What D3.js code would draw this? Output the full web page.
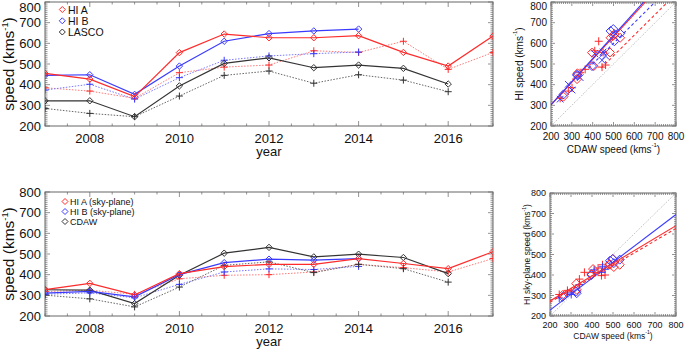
<!DOCTYPE html>
<html><head><meta charset="utf-8">
<script src="https://cdn.jsdelivr.net/npm/d3@7"></script>
<style>body{margin:0;background:#fff}svg{display:block}text{font-family:"Liberation Sans",Arial,sans-serif;fill:#111}</style>
</head><body><svg id="c" width="685" height="350"></svg>
<script>
// ---------- data ----------
const years = [2007,2008,2009,2010,2011,2012,2013,2014,2015,2016,2017];
const yearTicks = [2008,2010,2012,2014,2016];
const speedTicks = [200,300,400,500,600,700,800];

// top panel (mean = solid with diamonds, median = dotted with crosses)
const hiA      = [455,427,342,555,645,627,627,637,556,490,635];
const hiB      = [445,448,353,490,610,647,660,669,null,null,null];
const lasco    = [322,322,245,394,503,530,482,495,479,403,null];
const hiAMed   = [385,369,334,458,485,495,564,556,610,474,556];
const hiBMed   = [374,402,330,434,518,539,550,558,null,null,null];
const lascoMed = [285,261,245,345,445,466,407,448,422,366,null];

// bottom panel (sky-plane)
const hiASky    = [328,358,302,405,439,450,450,478,454,429,511];
const hiBSky    = [311,319,293,400,458,475,470,478,null,null,null];
const cdaw      = [327,325,260,397,504,532,486,499,483,405,null];
const hiASkyMed = [318,325,305,380,397,400,413,450,434,413,478];
const hiBSkyMed = [305,312,288,353,413,428,425,440,null,null,null];
const cdawMed   = [301,283,244,340,445,462,410,450,429,364,null];

// fit lines: [HI A solid, HI B solid, HI B dashed, HI A dashed]
const fitTopSlope = [1.10, 1.12, 1.00, 1.00];
const fitTopIntercept = [82, 78, 100, 40];
const fitTopStart = [200, 200, 380, 440];
// bottom: [HI B solid, HI A solid, HI A dashed]
const fitBotSlope = [0.778, 0.612, 0.600];
const fitBotIntercept = [73, 151, 147];
const fitBotStart = [200, 200, 200];

const legendTop = ["HI A","HI B","LASCO"];
const legendBot = ["HI A (sky-plane)","HI B (sky-plane)","CDAW"];

// ---------- drawing ----------
const svg = d3.select("#c");
const RED="#ff2a2a", BLUE="#3a3aff", BLACK="#333333";
const REDL="#ff7a7a", BLUEL="#7a7aff", GREYL="#666666";
let clipId=0;

function frame(g, x, y, xMaj, xMinStep, yMinStep, majLen, minLen){
  const [x0,x1]=x.range(), [y1,y0]=y.range();
  const t = g.append("g").attr("stroke","#777").attr("stroke-width",0.8);
  for(let v=y.domain()[0]; v<=y.domain()[1]+1e-6; v+=yMinStep){
    const maj = Math.abs(v/100-Math.round(v/100))<1e-6;
    const L = maj?majLen:minLen, yy=y(v);
    t.append("line").attr("x1",x0).attr("x2",x0+L).attr("y1",yy).attr("y2",yy);
    t.append("line").attr("x1",x1).attr("x2",x1-L).attr("y1",yy).attr("y2",yy);
  }
  const [d0,d1]=x.domain();
  for(let v=d0; v<=d1+1e-6; v+=xMinStep){
    const maj = xMaj.some(m=>Math.abs(m-v)<1e-6);
    const L = maj?majLen:minLen, xx=x(v);
    t.append("line").attr("x1",xx).attr("x2",xx).attr("y1",y1).attr("y2",y1-L);
    t.append("line").attr("x1",xx).attr("x2",xx).attr("y1",y0).attr("y2",y0+L);
  }
  g.append("rect").attr("x",x0).attr("y",y0).attr("width",x1-x0).attr("height",y1-y0)
   .attr("fill","none").attr("stroke","#666").attr("stroke-width",1);
}
function clip(g, x, y){
  const id="clip"+(clipId++);
  const [x0,x1]=x.range(), [y1,y0]=y.range();
  svg.append("clipPath").attr("id",id).append("rect").attr("x",x0).attr("y",y0).attr("width",x1-x0).attr("height",y1-y0);
  return g.append("g").attr("clip-path",`url(#${id})`);
}
function diamond(px,py,s){return `M${px},${py-s}L${px+s},${py}L${px},${py+s}L${px-s},${py}Z`;}
function plus(px,py,s){return `M${px-s},${py}L${px+s},${py}M${px},${py-s}L${px},${py+s}`;}
function cross(px,py,s){return `M${px-s},${py-s}L${px+s},${py+s}M${px-s},${py+s}L${px+s},${py-s}`;}

function speedLabel(sel, fs){
  sel.text("");
  sel.append("tspan").text(sel.attr("data-pre"));
  sel.append("tspan").attr("font-size",fs*0.6).attr("dy",-fs*0.38).text("-1");
  sel.append("tspan").attr("dy",fs*0.38).text(")");
}

function linePanel(top, bottom, series, legend, legendPos, legendFs){
  const x = d3.scaleLinear().domain([2007,2017]).range([45,493]);
  const y = d3.scaleLinear().domain([200,800]).range([bottom,top]);
  const g = svg.append("g");
  frame(g, x, y, yearTicks, 0.5, 10, 5, 2.5);
  const cg = clip(g, x, y);
  series.forEach(s=>{
    const pts = years.map((yr,i)=>[yr,s.data[i]]).filter(d=>d[1]!=null);
    cg.append("path").datum(pts)
      .attr("d", d3.line().x(d=>x(d[0])).y(d=>y(d[1])))
      .attr("fill","none").attr("stroke",s.color).attr("stroke-width",s.dash?1:1.2)
      .attr("stroke-dasharray",s.dash?"1.5,1.5":null);
    pts.forEach(d=>{
      cg.append("path").attr("d",(s.dash?plus:diamond)(x(d[0]),y(d[1]),s.dash?3.5:3.2))
        .attr("fill","none").attr("stroke",s.mcolor).attr("stroke-width",1);
    });
  });
  speedTicks.forEach(v=>{
    g.append("text").attr("x",41).attr("y",Math.max(y(v),7.5)).attr("text-anchor","end")
     .attr("dominant-baseline","central").attr("font-size",13).text(v);
  });
  yearTicks.forEach(v=>{
    g.append("text").attr("x",x(v)).attr("y",bottom+12).attr("text-anchor","middle")
     .attr("dominant-baseline","central").attr("font-size",13).text(v);
  });
  g.append("text").attr("x",x(2012)).attr("y",bottom+25.5).attr("text-anchor","middle")
     .attr("dominant-baseline","central").attr("font-size",13).text("year");
  const yt = g.append("text").attr("transform",`translate(14,${(top+bottom)/2}) rotate(-90)`)
     .attr("text-anchor","middle").attr("font-size",15.5).attr("data-pre","speed (kms");
  speedLabel(yt,15.5);
  legend.forEach((name,i)=>{
    const ly = legendPos.y[i];
    g.append("path").attr("d",diamond(legendPos.mx,ly,3)).attr("fill","none")
     .attr("stroke",[RED,BLUE,BLACK][i]).attr("stroke-width",1);
    g.append("text").attr("x",legendPos.tx).attr("y",ly).attr("dominant-baseline","central")
     .attr("font-size",legendFs).text(name);
  });
}

linePanel(2,126,[
  {data:hiAMed,color:REDL,mcolor:RED,dash:true},
  {data:hiBMed,color:BLUEL,mcolor:BLUE,dash:true},
  {data:lascoMed,color:GREYL,mcolor:BLACK,dash:true},
  {data:lasco,color:BLACK,mcolor:BLACK,dash:false},
  {data:hiB,color:BLUE,mcolor:BLUE,dash:false},
  {data:hiA,color:RED,mcolor:RED,dash:false}
], legendTop, {mx:62.3,tx:68,y:[9.5,20.8,32]}, 10.5);

linePanel(192,316,[
  {data:hiASkyMed,color:REDL,mcolor:RED,dash:true},
  {data:hiBSkyMed,color:BLUEL,mcolor:BLUE,dash:true},
  {data:cdawMed,color:GREYL,mcolor:BLACK,dash:true},
  {data:cdaw,color:BLACK,mcolor:BLACK,dash:false},
  {data:hiBSky,color:BLUE,mcolor:BLUE,dash:false},
  {data:hiASky,color:RED,mcolor:RED,dash:false}
], legendBot, {mx:65,tx:70,y:[201.5,211.5,221.5]}, 9);

function scatterPanel(l,r,t,b, cfg){
  const x = d3.scaleLinear().domain([200,800]).range([l,r]);
  const y = d3.scaleLinear().domain([200,800]).range([b,t]);
  const g = svg.append("g");
  frame(g, x, y, speedTicks, 10, 10, 4, 2);
  const cg = clip(g, x, y);
  cg.append("path").datum([200,800]).attr("d",d3.line().x(v=>x(v)).y(v=>y(v)))
    .attr("stroke","#999").attr("stroke-width",0.8).attr("stroke-dasharray","1,1.5").attr("fill","none");
  cfg.points.forEach(p=>{
    cdawIdx.forEach(i=>{
      const xv = p.xs[i], yv = p.ys[i];
      if(xv==null||yv==null) return;
      cg.append("path").attr("d",p.sym(x(xv),y(yv),p.size)).attr("fill","none")
        .attr("stroke",p.color).attr("stroke-width",1);
    });
  });
  cfg.fits.forEach(f=>{
    const pts=[f.start,800].map(v=>[v,f.slope*v+f.intercept]);
    cg.append("path").datum(pts).attr("d",d3.line().x(d=>x(d[0])).y(d=>y(d[1])))
      .attr("fill","none").attr("stroke",f.color).attr("stroke-width",1.1)
      .attr("stroke-dasharray",f.dash?"3,2.5":null);
  });
  speedTicks.forEach(v=>{
    g.append("text").attr("x",l-4).attr("y",Math.max(y(v),cfg.tfs*0.5+1)).attr("text-anchor","end")
     .attr("dominant-baseline","central").attr("font-size",cfg.tfs).text(v);
    g.append("text").attr("x",x(v)).attr("y",b+cfg.xtOff).attr("text-anchor","middle")
     .attr("dominant-baseline","central").attr("font-size",cfg.tfs).text(v);
  });
  const xt = g.append("text").attr("x",(l+r)/2).attr("y",b+cfg.xlOff).attr("text-anchor","middle")
     .attr("dominant-baseline","central").attr("font-size",cfg.lfs).attr("data-pre","CDAW speed (kms");
  speedLabel(xt,cfg.lfs);
  const ytl = g.append("text").attr("transform",`translate(${cfg.ylx},${(t+b)/2}) rotate(-90)`)
     .attr("text-anchor","middle").attr("dominant-baseline","central").attr("font-size",cfg.lfs).attr("data-pre",cfg.ylabel);
  speedLabel(ytl,cfg.lfs);
}
const cdawIdx = d3.range(10);
const fitColorsTop=[RED,BLUE,BLUE,RED], fitDashTop=[false,false,true,true];
const fitColorsBot=[BLUE,RED,RED], fitDashBot=[false,false,true];

scatterPanel(551,676,2,126,{
  points:[
    {xs:cdawMed,ys:hiAMed,sym:plus,size:4,color:RED},
    {xs:cdawMed,ys:hiBMed,sym:cross,size:3.3,color:BLUE},
    {xs:cdaw,ys:hiA,sym:diamond,size:4.5,color:RED},
    {xs:cdaw,ys:hiB,sym:diamond,size:4.5,color:BLUE}
  ],
  fits:fitTopSlope.map((s,i)=>({slope:s,intercept:fitTopIntercept[i],start:fitTopStart[i],color:fitColorsTop[i],dash:fitDashTop[i]})),
  tfs:10, lfs:10, xtOff:10, xlOff:22.5, ylx:519, ylabel:"HI speed (kms"
});
scatterPanel(550,676,193,316,{
  points:[
    {xs:cdawMed,ys:hiASkyMed,sym:plus,size:4,color:RED},
    {xs:cdawMed,ys:hiBSkyMed,sym:plus,size:4,color:BLUE},
    {xs:cdaw,ys:hiASky,sym:diamond,size:4.5,color:RED},
    {xs:cdaw,ys:hiBSky,sym:diamond,size:4.5,color:BLUE}
  ],
  fits:fitBotSlope.map((s,i)=>({slope:s,intercept:fitBotIntercept[i],start:fitBotStart[i],color:fitColorsBot[i],dash:fitDashBot[i]})),
  tfs:9, lfs:8.5, xtOff:8.5, xlOff:19.5, ylx:527, ylabel:"HI sky-plane speed (kms"
});
</script></body></html>
